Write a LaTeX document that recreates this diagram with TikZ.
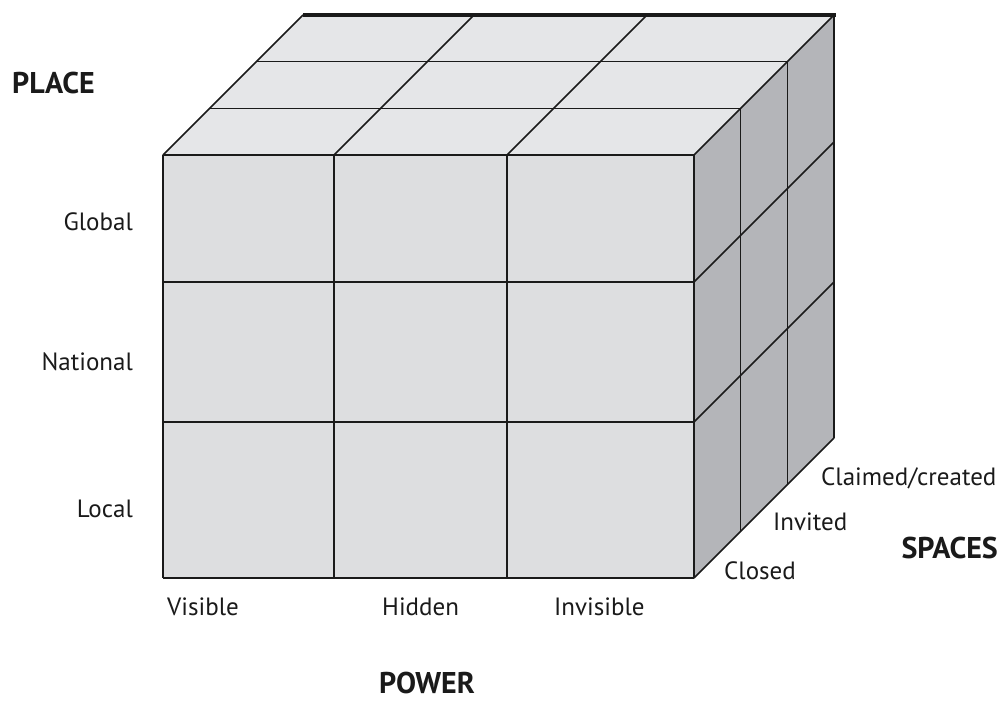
\documentclass[tikz,border=0pt]{standalone}
\usepackage{fontspec}
\setmainfont{PT Sans}
\definecolor{frontc}{HTML}{DDDEE0}
\definecolor{topc}{HTML}{E5E6E8}
\definecolor{sidec}{HTML}{B4B5B9}
\definecolor{inkc}{HTML}{1A1A1A}
\tikzset{
  edge/.style={draw=inkc, line width=1.6pt, line join=miter},
  axislab/.style={font=\fontsize{25}{27}\selectfont, text=inkc, inner sep=0pt},
  axistitle/.style={font=\fontsize{30}{32}\selectfont\bfseries, text=inkc, inner sep=0pt}
}
\begin{document}
\begin{tikzpicture}[x=1pt,y=-1pt]
\useasboundingbox (0,0) rectangle (1001,702);
\def\dd{46.667}
% faces
\fill[frontc] (163,155) rectangle (694,578);
\fill[topc] (163,155) -- (694,155) -- (834,15) -- (303,15) -- cycle;
\fill[sidec] (694,155) -- (834,15) -- (834,438) -- (694,578) -- cycle;
% front grid
\foreach \x in {163,334,507,694} \draw[edge] (\x,155) -- (\x,578);
\foreach \y in {155,282,422,578} \draw[edge] (163,\y) -- (694,\y);
% top grid
\foreach \k in {1,2} \draw[edge] (163+\k*\dd,155-\k*\dd) -- (694+\k*\dd,155-\k*\dd);
\foreach \x in {163,334,507,694} \draw[edge] (\x,155) -- (\x+140,15);
% right grid
\foreach \k in {1,2,3} \draw[edge] (694+\k*\dd,155-\k*\dd) -- (694+\k*\dd,578-\k*\dd);
\foreach \y in {282,422,578} \draw[edge] (694,\y) -- (834,\y-140);
% thick back top edge
\draw[draw=inkc, line width=3.2pt] (303,15) -- (836,15);
% labels
\node[axistitle, anchor=base west] (place) at (12,93) {PLACE};
\node[axislab, anchor=base east] (global) at (133,230) {Global};
\node[axislab, anchor=base east] (national) at (133,370) {National};
\node[axislab, anchor=base east] (local) at (133,517) {Local};
\node[axislab, anchor=base west] (visible) at (167,615) {Visible};
\node[axislab, anchor=base west] (hidden) at (382,615) {Hidden};
\node[axislab, anchor=base west] (invisible) at (554,615) {Invisible};
\node[axistitle, anchor=base] (power) at (427,693) {POWER};
\node[axislab, anchor=base west] (claimed) at (821,485) {Claimed/created};
\node[axislab, anchor=base west] (invited) at (773,530) {Invited};
\node[axislab, anchor=base west] (closed) at (724,579) {Closed};
\node[axistitle, anchor=base east] (spaces) at (998,558) {SPACES};
\end{tikzpicture}
\end{document}
